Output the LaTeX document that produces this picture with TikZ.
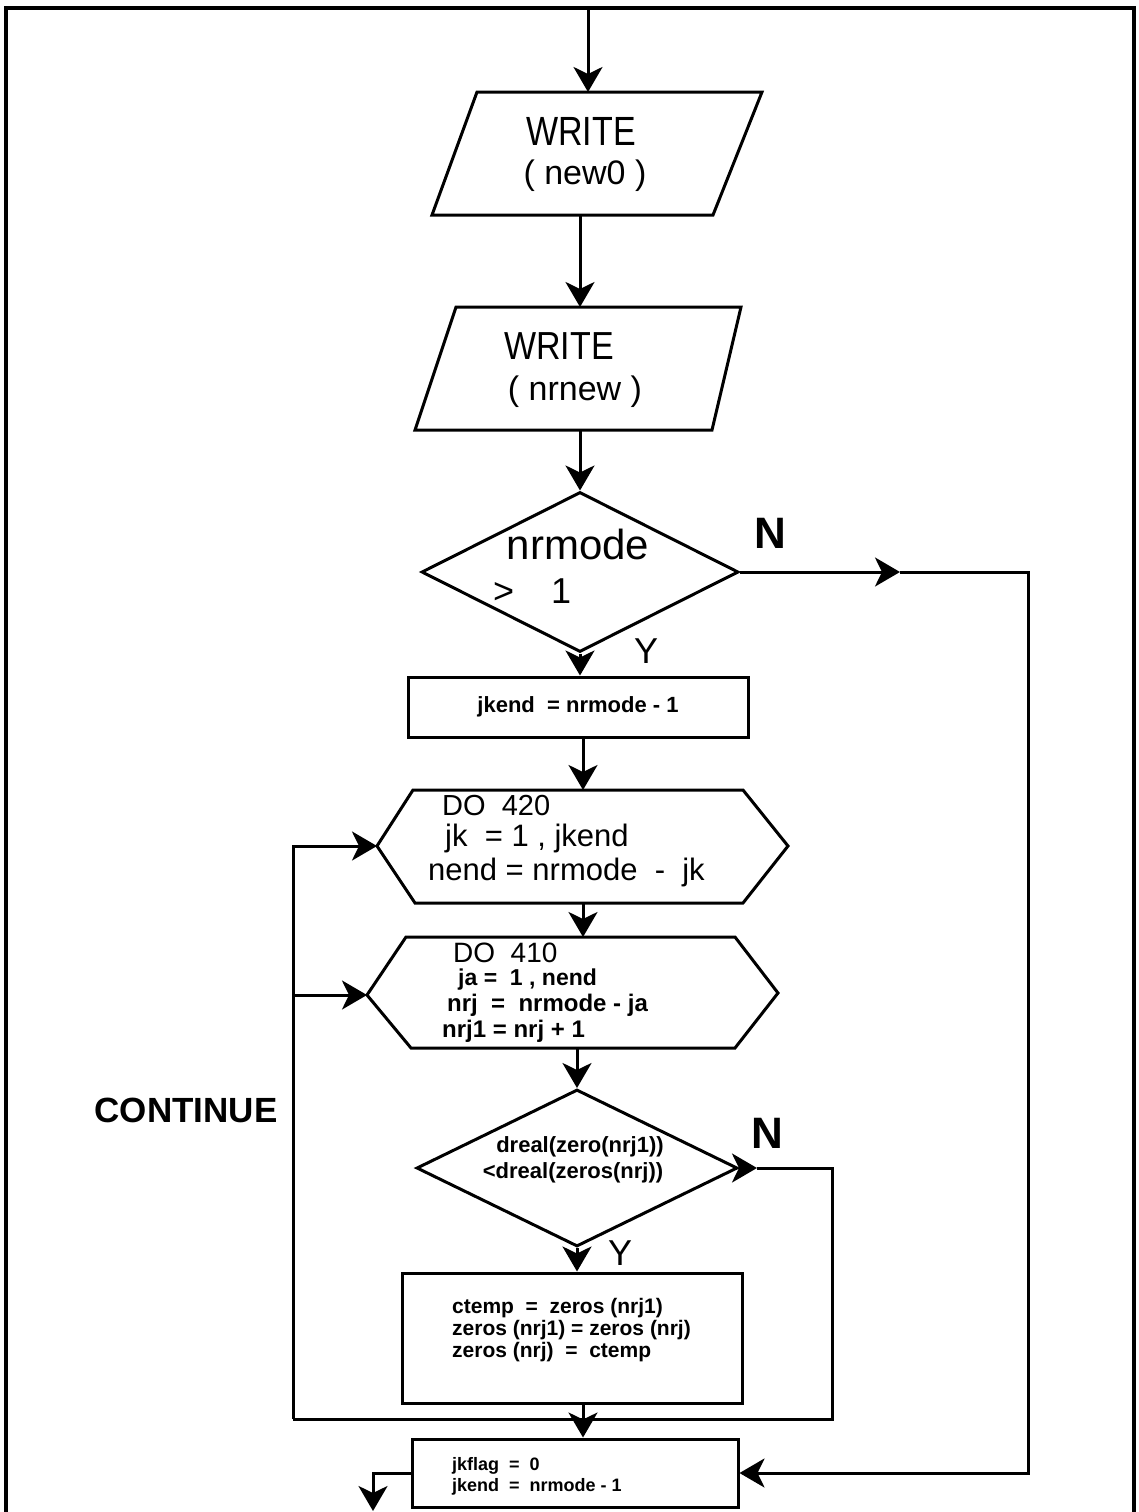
\documentclass[tikz,border=0pt]{standalone}
\usepackage{fontspec}
\usepackage{graphicx}
\setmainfont{Liberation Sans}
\usetikzlibrary{arrows.meta,shapes.geometric}
\newcommand\fsz[1]{\fontsize{#1pt}{#1pt}\selectfont}
\newcommand\vst[2]{\scalebox{1}[#1]{#2}}
\tikzset{
  ln/.style={line width=3pt},
  arr/.style={-{Stealth[length=25pt,width=29pt,inset=7pt]}},
  tc/.style={inner sep=0pt, anchor=base},
  tw/.style={inner sep=0pt, anchor=base west},
  boxnode/.style={draw, line width=3pt, rectangle, inner sep=0pt},
  dianode/.style={draw, line width=3pt, diamond, inner sep=0pt},
}
\begin{document}
\begin{tikzpicture}[x=1pt,y=-1pt]
\useasboundingbox (0,0) rectangle (1138,1512);
% frame
\draw[line width=4pt] (6,1512) -- (6,8) -- (1134,8) -- (1134,1512);
\coordinate (start) at (588,8);

% WRITE (new0)
\draw[ln] (477,92) -- (762,92) -- (713,215) -- (432,215) -- cycle;
\coordinate (p1n) at (588,92);
\coordinate (p1s) at (580,215);
\node[tc,font=\fsz{34}] (w1a) at (581,145) {\vst{1.2}{WRITE}};
\node[tc,font=\fsz{34}] (w1b) at (585,184) {( new0 )};
\draw[ln,arr] (start) -- (p1n);

% WRITE (nrnew)
\draw[ln] (456,307) -- (741,307) -- (712,430) -- (415,430) -- cycle;
\coordinate (p2n) at (580,307);
\coordinate (p2s) at (580,430);
\node[tc,font=\fsz{34}] (w2a) at (559,359) {\vst{1.15}{WRITE}};
\node[tc,font=\fsz{34}] (w2b) at (575,400) {( nrnew )};
\draw[ln,arr] (p1s) -- (p2n);

% decision nrmode > 1
\node[dianode,minimum width=317pt,minimum height=160pt] (d1) at (580,572) {};
\node[tc,font=\fsz{42}] (d1a) at (578,559) {nrmode};
\node[tw,font=\fsz{36}] (d1b) at (493,603) {>\hspace{37pt}1};
\node[tc,font=\bfseries\fsz{44}] (n1) at (770,548) {N};
\node[tc,font=\fsz{36}] (y1) at (646,663) {Y};
\draw[ln,arr] (p2s) -- (d1.north);

% jkend box
\node[boxnode,minimum width=340pt,minimum height=60pt,font=\bfseries\fsz{22}] (b1) at (578,707) {jkend \ = nrmode - 1};
\draw[ln,arr] (d1.south) -- (d1.south |- b1.north);

% DO 420 hexagon
\draw[ln] (377,846) -- (413,790) -- (743,790) -- (788,846) -- (743,903) -- (415,903) -- cycle;
\coordinate (h1n) at (583,790);
\coordinate (h1s) at (583,903);
\coordinate (h1w) at (377,846);
\node[tw,font=\fsz{29}] (h1a) at (442,815) {DO \ 420};
\node[tw,font=\fsz{31}] (h1b) at (445,846) {jk \ = 1 , jkend};
\node[tw,font=\fsz{31}] (h1c) at (428,880) {nend = nrmode \ - \ jk};
\draw[ln,arr] (b1.south -| h1n) -- (h1n);

% DO 410 hexagon
\draw[ln] (367,995) -- (406,937) -- (735,937) -- (778,993) -- (735,1048) -- (411,1048) -- cycle;
\coordinate (h2n) at (583,937);
\coordinate (h2s) at (577,1048);
\coordinate (h2w) at (367,995);
\node[tw,font=\fsz{28}] (h2a) at (453,962) {DO \ 410};
\node[tw,font=\bfseries\fsz{23}] (h2b) at (458,985) {ja = \ 1 , nend};
\node[tw,font=\bfseries\fsz{24}] (h2c) at (447,1011) {nrj \ = \ nrmode - ja};
\node[tw,font=\bfseries\fsz{24}] (h2d) at (442,1037) {nrj1 = nrj + 1};
\draw[ln,arr] (h1s) -- (h2n);

% decision dreal
\node[dianode,minimum width=321pt,minimum height=157pt] (d2) at (577,1168) {};
\node[tc,font=\bfseries\fsz{22}] (d2a) at (580,1152) {dreal(zero(nrj1))};
\node[tc,font=\bfseries\fsz{22}] (d2b) at (573,1178) {<dreal(zeros(nrj))};
\node[tc,font=\bfseries\fsz{44}] (n2) at (767,1148) {N};
\node[tc,font=\fsz{36}] (y2) at (620,1265) {Y};
\draw[ln,arr] (h2s) -- (h2s |- d2.north);

% ctemp box
\node[boxnode,minimum width=340pt,minimum height=130pt] (b2) at (572,1338) {};
\node[tw,font=\bfseries\fsz{21}] (b2a) at (452,1313) {ctemp \ = \ zeros (nrj1)};
\node[tw,font=\bfseries\fsz{21}] (b2b) at (452,1335) {zeros (nrj1) = zeros (nrj)};
\node[tw,font=\bfseries\fsz{21}] (b2c) at (452,1357) {zeros (nrj) \ = \ ctemp};
\draw[ln,arr] (d2.south) -- (d2.south |- b2.north);

% jkflag box
\node[boxnode,minimum width=326pt,minimum height=68pt] (b3) at (575,1473) {};
\node[tw,font=\bfseries\fsz{18}] (b3a) at (452,1470) {jkflag \ = \ 0};
\node[tw,font=\bfseries\fsz{18}] (b3b) at (452,1491) {jkend \ = \ nrmode - 1};
\draw[ln,arr] ([xshift=11pt]b2.south) -- ([xshift=8pt]b3.north);

% CONTINUE label
\node[tc,font=\bfseries\fsz{35}] (cont) at (186,1122) {CONTINUE};

% N branch of first decision
\coordinate (n1m) at (900,572);
\coordinate (n1c) at (1028,572);
\draw[ln,arr] (d1.east) -- (n1m);
\draw[ln,arr] (n1m) -- (n1c) |- (b3.east);

% N branch of second decision and loop back
\coordinate (n2m) at (757,1168);
\coordinate (n2c) at (832,1168);
\coordinate (loopL) at (293,1419);
\coordinate (loopM) at (293,995);
\draw[ln,arr] (d2.east) -- (n2m);
\draw[ln] (n2m) -- (n2c) |- (loopL);
\draw[ln,arr] (loopL) |- (h1w);
\draw[ln,arr] (loopM) -- (h2w);

% exit
\coordinate (ex) at (373,1511);
\draw[ln,arr] (b3.west) -| (ex);
\end{tikzpicture}
\end{document}
